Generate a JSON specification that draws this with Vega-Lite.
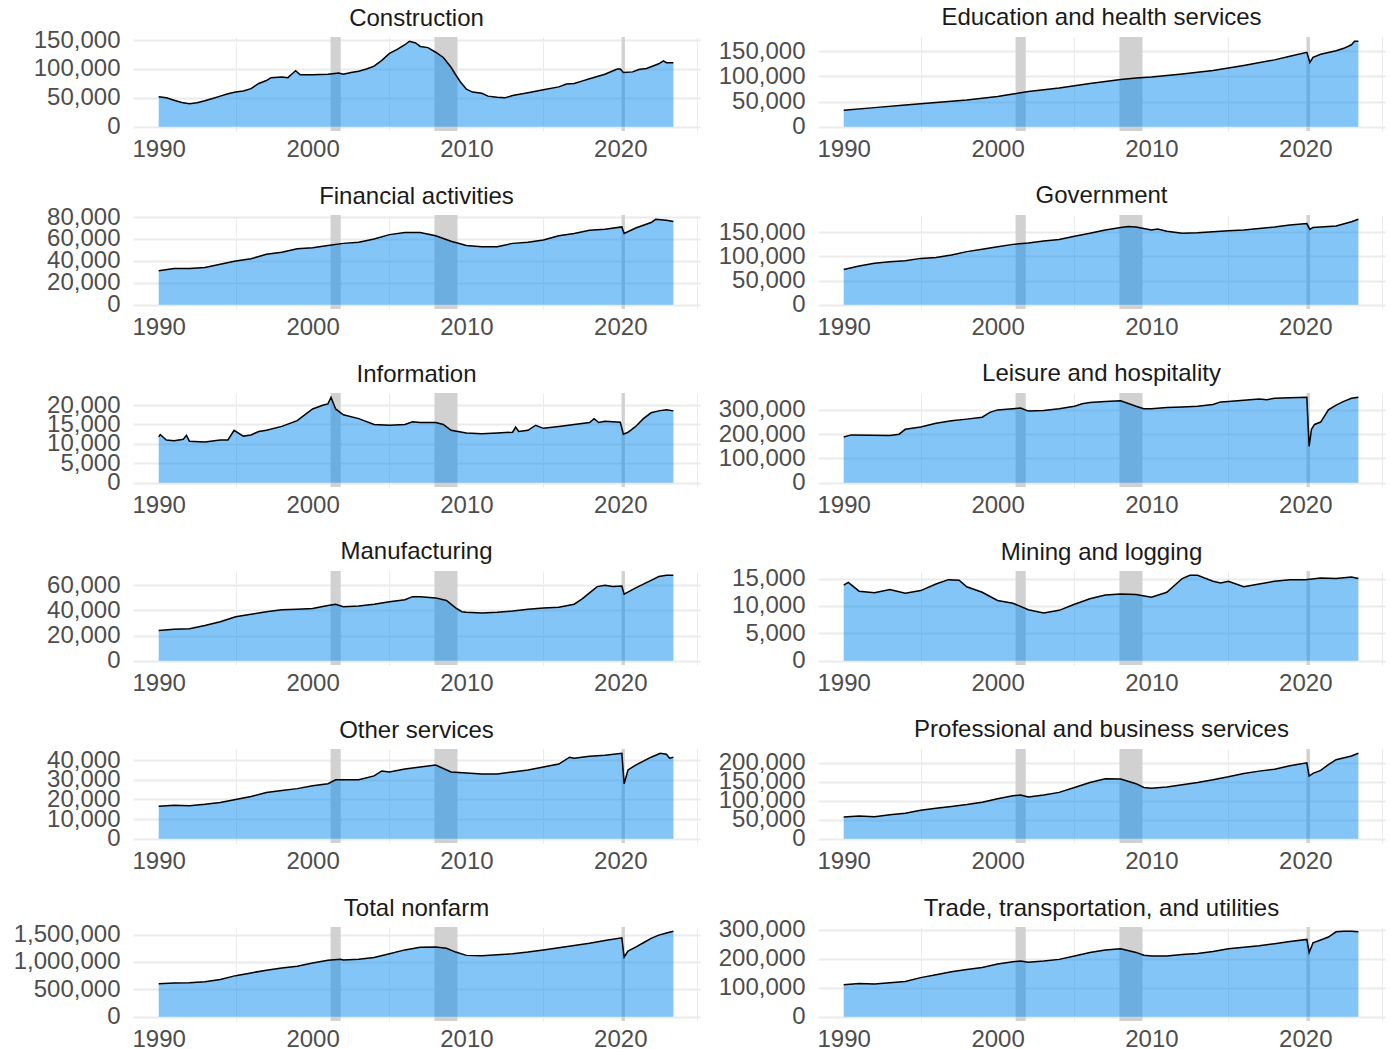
{
  "$schema": "https://vega.github.io/schema/vega-lite/v6.json",
  "padding": {"left": 13, "top": 6, "right": 5, "bottom": 0},
  "background": "white",
  "datasets": {
    "rec": [
      {"start": 2001.17, "end": 2001.83},
      {"start": 2007.92, "end": 2009.42},
      {"start": 2020.08, "end": 2020.3}
    ],
    "emp": [
      {"industry": "Construction", "year": 1990, "value": 52000},
      {"industry": "Construction", "year": 1990.5, "value": 50000},
      {"industry": "Construction", "year": 1991, "value": 46000},
      {"industry": "Construction", "year": 1991.5, "value": 42000},
      {"industry": "Construction", "year": 1992, "value": 40000},
      {"industry": "Construction", "year": 1992.5, "value": 41500},
      {"industry": "Construction", "year": 1993, "value": 45000},
      {"industry": "Construction", "year": 1993.5, "value": 49000},
      {"industry": "Construction", "year": 1994, "value": 53000},
      {"industry": "Construction", "year": 1994.5, "value": 57000},
      {"industry": "Construction", "year": 1995, "value": 60000},
      {"industry": "Construction", "year": 1995.5, "value": 62000},
      {"industry": "Construction", "year": 1996, "value": 66000},
      {"industry": "Construction", "year": 1996.5, "value": 75000},
      {"industry": "Construction", "year": 1997, "value": 80000},
      {"industry": "Construction", "year": 1997.3, "value": 85000},
      {"industry": "Construction", "year": 1998, "value": 86000},
      {"industry": "Construction", "year": 1998.4, "value": 85000},
      {"industry": "Construction", "year": 1998.6, "value": 90000},
      {"industry": "Construction", "year": 1998.9, "value": 97000},
      {"industry": "Construction", "year": 1999.2, "value": 90000},
      {"industry": "Construction", "year": 2000, "value": 90000},
      {"industry": "Construction", "year": 2001, "value": 91000},
      {"industry": "Construction", "year": 2001.7, "value": 93000},
      {"industry": "Construction", "year": 2002, "value": 91000},
      {"industry": "Construction", "year": 2002.5, "value": 94000},
      {"industry": "Construction", "year": 2003, "value": 96000},
      {"industry": "Construction", "year": 2003.5, "value": 100000},
      {"industry": "Construction", "year": 2004, "value": 105000},
      {"industry": "Construction", "year": 2004.5, "value": 115000},
      {"industry": "Construction", "year": 2005, "value": 127000},
      {"industry": "Construction", "year": 2005.5, "value": 134000},
      {"industry": "Construction", "year": 2006, "value": 142000},
      {"industry": "Construction", "year": 2006.3, "value": 148000},
      {"industry": "Construction", "year": 2006.7, "value": 145000},
      {"industry": "Construction", "year": 2007, "value": 139000},
      {"industry": "Construction", "year": 2007.5, "value": 137000},
      {"industry": "Construction", "year": 2008, "value": 129000},
      {"industry": "Construction", "year": 2008.5, "value": 120000},
      {"industry": "Construction", "year": 2009, "value": 103000},
      {"industry": "Construction", "year": 2009.3, "value": 90000},
      {"industry": "Construction", "year": 2009.6, "value": 78000},
      {"industry": "Construction", "year": 2010, "value": 65000},
      {"industry": "Construction", "year": 2010.4, "value": 60000},
      {"industry": "Construction", "year": 2011, "value": 58000},
      {"industry": "Construction", "year": 2011.4, "value": 53000},
      {"industry": "Construction", "year": 2012, "value": 51000},
      {"industry": "Construction", "year": 2012.5, "value": 50000},
      {"industry": "Construction", "year": 2013, "value": 54000},
      {"industry": "Construction", "year": 2014, "value": 59000},
      {"industry": "Construction", "year": 2015, "value": 64000},
      {"industry": "Construction", "year": 2016, "value": 69000},
      {"industry": "Construction", "year": 2016.5, "value": 74000},
      {"industry": "Construction", "year": 2017, "value": 75000},
      {"industry": "Construction", "year": 2017.5, "value": 79000},
      {"industry": "Construction", "year": 2018, "value": 83000},
      {"industry": "Construction", "year": 2019, "value": 91000},
      {"industry": "Construction", "year": 2019.8, "value": 100000},
      {"industry": "Construction", "year": 2020, "value": 100000},
      {"industry": "Construction", "year": 2020.2, "value": 94000},
      {"industry": "Construction", "year": 2020.8, "value": 95000},
      {"industry": "Construction", "year": 2021.2, "value": 99000},
      {"industry": "Construction", "year": 2021.7, "value": 101000},
      {"industry": "Construction", "year": 2022, "value": 104000},
      {"industry": "Construction", "year": 2022.5, "value": 109000},
      {"industry": "Construction", "year": 2022.8, "value": 114000},
      {"industry": "Construction", "year": 2023, "value": 111000},
      {"industry": "Construction", "year": 2023.45, "value": 111000},

      {"industry": "Education and health services", "year": 1990, "value": 33000},
      {"industry": "Education and health services", "year": 1992, "value": 38000},
      {"industry": "Education and health services", "year": 1994, "value": 43000},
      {"industry": "Education and health services", "year": 1996, "value": 48000},
      {"industry": "Education and health services", "year": 1998, "value": 53000},
      {"industry": "Education and health services", "year": 2000, "value": 60000},
      {"industry": "Education and health services", "year": 2001, "value": 65000},
      {"industry": "Education and health services", "year": 2002, "value": 70000},
      {"industry": "Education and health services", "year": 2004, "value": 77000},
      {"industry": "Education and health services", "year": 2006, "value": 86000},
      {"industry": "Education and health services", "year": 2008, "value": 94000},
      {"industry": "Education and health services", "year": 2009, "value": 97000},
      {"industry": "Education and health services", "year": 2010, "value": 99000},
      {"industry": "Education and health services", "year": 2012, "value": 105000},
      {"industry": "Education and health services", "year": 2014, "value": 112000},
      {"industry": "Education and health services", "year": 2016, "value": 122000},
      {"industry": "Education and health services", "year": 2018, "value": 133000},
      {"industry": "Education and health services", "year": 2019, "value": 140000},
      {"industry": "Education and health services", "year": 2020.1, "value": 148000},
      {"industry": "Education and health services", "year": 2020.3, "value": 128000},
      {"industry": "Education and health services", "year": 2020.5, "value": 138000},
      {"industry": "Education and health services", "year": 2021, "value": 144000},
      {"industry": "Education and health services", "year": 2022, "value": 151000},
      {"industry": "Education and health services", "year": 2022.5, "value": 156000},
      {"industry": "Education and health services", "year": 2023, "value": 163000},
      {"industry": "Education and health services", "year": 2023.2, "value": 170000},
      {"industry": "Education and health services", "year": 2023.45, "value": 170000},

      {"industry": "Financial activities", "year": 1990, "value": 31000},
      {"industry": "Financial activities", "year": 1991, "value": 33000},
      {"industry": "Financial activities", "year": 1992, "value": 33000},
      {"industry": "Financial activities", "year": 1993, "value": 34000},
      {"industry": "Financial activities", "year": 1994, "value": 37000},
      {"industry": "Financial activities", "year": 1995, "value": 40000},
      {"industry": "Financial activities", "year": 1996, "value": 42000},
      {"industry": "Financial activities", "year": 1997, "value": 46000},
      {"industry": "Financial activities", "year": 1998, "value": 48000},
      {"industry": "Financial activities", "year": 1999, "value": 51000},
      {"industry": "Financial activities", "year": 2000, "value": 52000},
      {"industry": "Financial activities", "year": 2001, "value": 54000},
      {"industry": "Financial activities", "year": 2002, "value": 56000},
      {"industry": "Financial activities", "year": 2003, "value": 57000},
      {"industry": "Financial activities", "year": 2004, "value": 60000},
      {"industry": "Financial activities", "year": 2005, "value": 64000},
      {"industry": "Financial activities", "year": 2006, "value": 66000},
      {"industry": "Financial activities", "year": 2007, "value": 66000},
      {"industry": "Financial activities", "year": 2008, "value": 63000},
      {"industry": "Financial activities", "year": 2009, "value": 58000},
      {"industry": "Financial activities", "year": 2010, "value": 54000},
      {"industry": "Financial activities", "year": 2011, "value": 53000},
      {"industry": "Financial activities", "year": 2012, "value": 53000},
      {"industry": "Financial activities", "year": 2013, "value": 56000},
      {"industry": "Financial activities", "year": 2014, "value": 57000},
      {"industry": "Financial activities", "year": 2015, "value": 59000},
      {"industry": "Financial activities", "year": 2016, "value": 63000},
      {"industry": "Financial activities", "year": 2017, "value": 65000},
      {"industry": "Financial activities", "year": 2018, "value": 68000},
      {"industry": "Financial activities", "year": 2019, "value": 69000},
      {"industry": "Financial activities", "year": 2020.1, "value": 71000},
      {"industry": "Financial activities", "year": 2020.25, "value": 65000},
      {"industry": "Financial activities", "year": 2021, "value": 70000},
      {"industry": "Financial activities", "year": 2022, "value": 75000},
      {"industry": "Financial activities", "year": 2022.3, "value": 78000},
      {"industry": "Financial activities", "year": 2023, "value": 77000},
      {"industry": "Financial activities", "year": 2023.45, "value": 76000},

      {"industry": "Government", "year": 1990, "value": 73000},
      {"industry": "Government", "year": 1991, "value": 80000},
      {"industry": "Government", "year": 1992, "value": 86000},
      {"industry": "Government", "year": 1993, "value": 89000},
      {"industry": "Government", "year": 1994, "value": 91000},
      {"industry": "Government", "year": 1995, "value": 96000},
      {"industry": "Government", "year": 1996, "value": 98000},
      {"industry": "Government", "year": 1997, "value": 103000},
      {"industry": "Government", "year": 1998, "value": 110000},
      {"industry": "Government", "year": 1999, "value": 115000},
      {"industry": "Government", "year": 2000, "value": 120000},
      {"industry": "Government", "year": 2001, "value": 125000},
      {"industry": "Government", "year": 2002, "value": 128000},
      {"industry": "Government", "year": 2003, "value": 132000},
      {"industry": "Government", "year": 2004, "value": 135000},
      {"industry": "Government", "year": 2005, "value": 142000},
      {"industry": "Government", "year": 2006, "value": 148000},
      {"industry": "Government", "year": 2007, "value": 155000},
      {"industry": "Government", "year": 2008, "value": 160000},
      {"industry": "Government", "year": 2008.5, "value": 162000},
      {"industry": "Government", "year": 2009, "value": 161000},
      {"industry": "Government", "year": 2010, "value": 155000},
      {"industry": "Government", "year": 2010.4, "value": 157000},
      {"industry": "Government", "year": 2011, "value": 152000},
      {"industry": "Government", "year": 2012, "value": 148000},
      {"industry": "Government", "year": 2013, "value": 149000},
      {"industry": "Government", "year": 2014, "value": 151000},
      {"industry": "Government", "year": 2015, "value": 153000},
      {"industry": "Government", "year": 2016, "value": 155000},
      {"industry": "Government", "year": 2017, "value": 158000},
      {"industry": "Government", "year": 2018, "value": 161000},
      {"industry": "Government", "year": 2019, "value": 165000},
      {"industry": "Government", "year": 2020.1, "value": 168000},
      {"industry": "Government", "year": 2020.3, "value": 156000},
      {"industry": "Government", "year": 2020.5, "value": 160000},
      {"industry": "Government", "year": 2021, "value": 161000},
      {"industry": "Government", "year": 2022, "value": 163000},
      {"industry": "Government", "year": 2023, "value": 172000},
      {"industry": "Government", "year": 2023.45, "value": 177000},

      {"industry": "Information", "year": 1990, "value": 11800},
      {"industry": "Information", "year": 1990.1, "value": 12400},
      {"industry": "Information", "year": 1990.5, "value": 11000},
      {"industry": "Information", "year": 1991, "value": 10800},
      {"industry": "Information", "year": 1991.6, "value": 11200},
      {"industry": "Information", "year": 1991.8, "value": 12200},
      {"industry": "Information", "year": 1992, "value": 10700},
      {"industry": "Information", "year": 1993, "value": 10500},
      {"industry": "Information", "year": 1994, "value": 11000},
      {"industry": "Information", "year": 1994.5, "value": 11000},
      {"industry": "Information", "year": 1994.9, "value": 13500},
      {"industry": "Information", "year": 1995.5, "value": 12000},
      {"industry": "Information", "year": 1996, "value": 12300},
      {"industry": "Information", "year": 1996.5, "value": 13200},
      {"industry": "Information", "year": 1997, "value": 13500},
      {"industry": "Information", "year": 1998, "value": 14500},
      {"industry": "Information", "year": 1999, "value": 16000},
      {"industry": "Information", "year": 2000, "value": 19000},
      {"industry": "Information", "year": 2000.7, "value": 20000},
      {"industry": "Information", "year": 2001, "value": 20300},
      {"industry": "Information", "year": 2001.2, "value": 22000},
      {"industry": "Information", "year": 2001.5, "value": 19000},
      {"industry": "Information", "year": 2002, "value": 17500},
      {"industry": "Information", "year": 2003, "value": 16500},
      {"industry": "Information", "year": 2004, "value": 15000},
      {"industry": "Information", "year": 2005, "value": 14800},
      {"industry": "Information", "year": 2006, "value": 15000},
      {"industry": "Information", "year": 2006.5, "value": 15700},
      {"industry": "Information", "year": 2007, "value": 15500},
      {"industry": "Information", "year": 2008, "value": 15500},
      {"industry": "Information", "year": 2008.5, "value": 15000},
      {"industry": "Information", "year": 2009, "value": 13500},
      {"industry": "Information", "year": 2010, "value": 12800},
      {"industry": "Information", "year": 2011, "value": 12600},
      {"industry": "Information", "year": 2012, "value": 12800},
      {"industry": "Information", "year": 2013, "value": 13000},
      {"industry": "Information", "year": 2013.2, "value": 14300},
      {"industry": "Information", "year": 2013.4, "value": 13200},
      {"industry": "Information", "year": 2014, "value": 13500},
      {"industry": "Information", "year": 2014.5, "value": 14800},
      {"industry": "Information", "year": 2015, "value": 14000},
      {"industry": "Information", "year": 2016, "value": 14500},
      {"industry": "Information", "year": 2017, "value": 15000},
      {"industry": "Information", "year": 2018, "value": 15500},
      {"industry": "Information", "year": 2018.3, "value": 16500},
      {"industry": "Information", "year": 2018.6, "value": 15500},
      {"industry": "Information", "year": 2019, "value": 15800},
      {"industry": "Information", "year": 2020, "value": 15600},
      {"industry": "Information", "year": 2020.2, "value": 12500},
      {"industry": "Information", "year": 2020.5, "value": 13000},
      {"industry": "Information", "year": 2021, "value": 14500},
      {"industry": "Information", "year": 2021.5, "value": 16500},
      {"industry": "Information", "year": 2022, "value": 18000},
      {"industry": "Information", "year": 2022.5, "value": 18500},
      {"industry": "Information", "year": 2023, "value": 18800},
      {"industry": "Information", "year": 2023.45, "value": 18500},

      {"industry": "Leisure and hospitality", "year": 1990, "value": 188000},
      {"industry": "Leisure and hospitality", "year": 1990.5, "value": 197000},
      {"industry": "Leisure and hospitality", "year": 1993, "value": 195000},
      {"industry": "Leisure and hospitality", "year": 1993.6, "value": 200000},
      {"industry": "Leisure and hospitality", "year": 1994, "value": 220000},
      {"industry": "Leisure and hospitality", "year": 1995, "value": 230000},
      {"industry": "Leisure and hospitality", "year": 1996, "value": 245000},
      {"industry": "Leisure and hospitality", "year": 1997, "value": 255000},
      {"industry": "Leisure and hospitality", "year": 1998, "value": 262000},
      {"industry": "Leisure and hospitality", "year": 1999, "value": 270000},
      {"industry": "Leisure and hospitality", "year": 1999.5, "value": 290000},
      {"industry": "Leisure and hospitality", "year": 2000, "value": 300000},
      {"industry": "Leisure and hospitality", "year": 2001, "value": 305000},
      {"industry": "Leisure and hospitality", "year": 2001.5, "value": 308000},
      {"industry": "Leisure and hospitality", "year": 2002, "value": 295000},
      {"industry": "Leisure and hospitality", "year": 2003, "value": 298000},
      {"industry": "Leisure and hospitality", "year": 2004, "value": 305000},
      {"industry": "Leisure and hospitality", "year": 2005, "value": 315000},
      {"industry": "Leisure and hospitality", "year": 2005.5, "value": 325000},
      {"industry": "Leisure and hospitality", "year": 2006, "value": 330000},
      {"industry": "Leisure and hospitality", "year": 2007, "value": 335000},
      {"industry": "Leisure and hospitality", "year": 2008, "value": 338000},
      {"industry": "Leisure and hospitality", "year": 2009, "value": 315000},
      {"industry": "Leisure and hospitality", "year": 2009.5, "value": 305000},
      {"industry": "Leisure and hospitality", "year": 2010, "value": 305000},
      {"industry": "Leisure and hospitality", "year": 2011, "value": 310000},
      {"industry": "Leisure and hospitality", "year": 2012, "value": 312000},
      {"industry": "Leisure and hospitality", "year": 2013, "value": 315000},
      {"industry": "Leisure and hospitality", "year": 2014, "value": 322000},
      {"industry": "Leisure and hospitality", "year": 2014.5, "value": 333000},
      {"industry": "Leisure and hospitality", "year": 2015, "value": 335000},
      {"industry": "Leisure and hospitality", "year": 2016, "value": 340000},
      {"industry": "Leisure and hospitality", "year": 2017, "value": 345000},
      {"industry": "Leisure and hospitality", "year": 2017.5, "value": 342000},
      {"industry": "Leisure and hospitality", "year": 2018, "value": 348000},
      {"industry": "Leisure and hospitality", "year": 2019, "value": 350000},
      {"industry": "Leisure and hospitality", "year": 2020.1, "value": 352000},
      {"industry": "Leisure and hospitality", "year": 2020.25, "value": 150000},
      {"industry": "Leisure and hospitality", "year": 2020.4, "value": 220000},
      {"industry": "Leisure and hospitality", "year": 2020.6, "value": 240000},
      {"industry": "Leisure and hospitality", "year": 2021, "value": 250000},
      {"industry": "Leisure and hospitality", "year": 2021.5, "value": 300000},
      {"industry": "Leisure and hospitality", "year": 2022, "value": 320000},
      {"industry": "Leisure and hospitality", "year": 2022.5, "value": 335000},
      {"industry": "Leisure and hospitality", "year": 2023, "value": 348000},
      {"industry": "Leisure and hospitality", "year": 2023.45, "value": 352000},

      {"industry": "Manufacturing", "year": 1990, "value": 24000},
      {"industry": "Manufacturing", "year": 1991, "value": 25000},
      {"industry": "Manufacturing", "year": 1992, "value": 25500},
      {"industry": "Manufacturing", "year": 1993, "value": 28000},
      {"industry": "Manufacturing", "year": 1994, "value": 31000},
      {"industry": "Manufacturing", "year": 1995, "value": 35000},
      {"industry": "Manufacturing", "year": 1996, "value": 37000},
      {"industry": "Manufacturing", "year": 1997, "value": 39000},
      {"industry": "Manufacturing", "year": 1998, "value": 40500},
      {"industry": "Manufacturing", "year": 1999, "value": 41000},
      {"industry": "Manufacturing", "year": 2000, "value": 41500},
      {"industry": "Manufacturing", "year": 2001, "value": 44000},
      {"industry": "Manufacturing", "year": 2001.5, "value": 45000},
      {"industry": "Manufacturing", "year": 2002, "value": 43000},
      {"industry": "Manufacturing", "year": 2003, "value": 43500},
      {"industry": "Manufacturing", "year": 2004, "value": 45000},
      {"industry": "Manufacturing", "year": 2005, "value": 47000},
      {"industry": "Manufacturing", "year": 2006, "value": 48500},
      {"industry": "Manufacturing", "year": 2006.5, "value": 51000},
      {"industry": "Manufacturing", "year": 2007, "value": 51000},
      {"industry": "Manufacturing", "year": 2008, "value": 50000},
      {"industry": "Manufacturing", "year": 2008.7, "value": 48000},
      {"industry": "Manufacturing", "year": 2009.3, "value": 42000},
      {"industry": "Manufacturing", "year": 2009.7, "value": 39000},
      {"industry": "Manufacturing", "year": 2010, "value": 38500},
      {"industry": "Manufacturing", "year": 2011, "value": 38000},
      {"industry": "Manufacturing", "year": 2012, "value": 38500},
      {"industry": "Manufacturing", "year": 2013, "value": 39500},
      {"industry": "Manufacturing", "year": 2014, "value": 41000},
      {"industry": "Manufacturing", "year": 2015, "value": 42000},
      {"industry": "Manufacturing", "year": 2016, "value": 42500},
      {"industry": "Manufacturing", "year": 2017, "value": 45000},
      {"industry": "Manufacturing", "year": 2017.5, "value": 49000},
      {"industry": "Manufacturing", "year": 2018, "value": 54000},
      {"industry": "Manufacturing", "year": 2018.5, "value": 59000},
      {"industry": "Manufacturing", "year": 2019, "value": 60000},
      {"industry": "Manufacturing", "year": 2019.5, "value": 59000},
      {"industry": "Manufacturing", "year": 2020.1, "value": 59500},
      {"industry": "Manufacturing", "year": 2020.25, "value": 53000},
      {"industry": "Manufacturing", "year": 2021, "value": 58000},
      {"industry": "Manufacturing", "year": 2022, "value": 64000},
      {"industry": "Manufacturing", "year": 2022.5, "value": 67000},
      {"industry": "Manufacturing", "year": 2023, "value": 68000},
      {"industry": "Manufacturing", "year": 2023.45, "value": 68000},

      {"industry": "Mining and logging", "year": 1990, "value": 13800},
      {"industry": "Mining and logging", "year": 1990.3, "value": 14300},
      {"industry": "Mining and logging", "year": 1991, "value": 12700},
      {"industry": "Mining and logging", "year": 1992, "value": 12400},
      {"industry": "Mining and logging", "year": 1993, "value": 13000},
      {"industry": "Mining and logging", "year": 1994, "value": 12300},
      {"industry": "Mining and logging", "year": 1995, "value": 12800},
      {"industry": "Mining and logging", "year": 1996, "value": 14000},
      {"industry": "Mining and logging", "year": 1996.8, "value": 14800},
      {"industry": "Mining and logging", "year": 1997.5, "value": 14700},
      {"industry": "Mining and logging", "year": 1998, "value": 13500},
      {"industry": "Mining and logging", "year": 1999, "value": 12500},
      {"industry": "Mining and logging", "year": 2000, "value": 11000},
      {"industry": "Mining and logging", "year": 2001, "value": 10500},
      {"industry": "Mining and logging", "year": 2002, "value": 9300},
      {"industry": "Mining and logging", "year": 2003, "value": 8700},
      {"industry": "Mining and logging", "year": 2004, "value": 9200},
      {"industry": "Mining and logging", "year": 2005, "value": 10300},
      {"industry": "Mining and logging", "year": 2006, "value": 11300},
      {"industry": "Mining and logging", "year": 2007, "value": 12000},
      {"industry": "Mining and logging", "year": 2008, "value": 12200},
      {"industry": "Mining and logging", "year": 2009, "value": 12100},
      {"industry": "Mining and logging", "year": 2010, "value": 11600},
      {"industry": "Mining and logging", "year": 2011, "value": 12500},
      {"industry": "Mining and logging", "year": 2012, "value": 15000},
      {"industry": "Mining and logging", "year": 2012.5, "value": 15600},
      {"industry": "Mining and logging", "year": 2013, "value": 15600},
      {"industry": "Mining and logging", "year": 2014, "value": 14500},
      {"industry": "Mining and logging", "year": 2014.5, "value": 14200},
      {"industry": "Mining and logging", "year": 2015, "value": 14500},
      {"industry": "Mining and logging", "year": 2016, "value": 13500},
      {"industry": "Mining and logging", "year": 2017, "value": 14000},
      {"industry": "Mining and logging", "year": 2018, "value": 14500},
      {"industry": "Mining and logging", "year": 2019, "value": 14800},
      {"industry": "Mining and logging", "year": 2020, "value": 14800},
      {"industry": "Mining and logging", "year": 2021, "value": 15100},
      {"industry": "Mining and logging", "year": 2022, "value": 15000},
      {"industry": "Mining and logging", "year": 2023, "value": 15300},
      {"industry": "Mining and logging", "year": 2023.45, "value": 15000},

      {"industry": "Other services", "year": 1990, "value": 16500},
      {"industry": "Other services", "year": 1991, "value": 17000},
      {"industry": "Other services", "year": 1992, "value": 16800},
      {"industry": "Other services", "year": 1993, "value": 17500},
      {"industry": "Other services", "year": 1994, "value": 18500},
      {"industry": "Other services", "year": 1995, "value": 20000},
      {"industry": "Other services", "year": 1996, "value": 21500},
      {"industry": "Other services", "year": 1997, "value": 23500},
      {"industry": "Other services", "year": 1998, "value": 24500},
      {"industry": "Other services", "year": 1999, "value": 25500},
      {"industry": "Other services", "year": 2000, "value": 27000},
      {"industry": "Other services", "year": 2001, "value": 28000},
      {"industry": "Other services", "year": 2001.5, "value": 30000},
      {"industry": "Other services", "year": 2002, "value": 30000},
      {"industry": "Other services", "year": 2003, "value": 30000},
      {"industry": "Other services", "year": 2004, "value": 32000},
      {"industry": "Other services", "year": 2004.5, "value": 34500},
      {"industry": "Other services", "year": 2005, "value": 34000},
      {"industry": "Other services", "year": 2006, "value": 35500},
      {"industry": "Other services", "year": 2007, "value": 36500},
      {"industry": "Other services", "year": 2008, "value": 37500},
      {"industry": "Other services", "year": 2009, "value": 34000},
      {"industry": "Other services", "year": 2010, "value": 33500},
      {"industry": "Other services", "year": 2011, "value": 33000},
      {"industry": "Other services", "year": 2012, "value": 33000},
      {"industry": "Other services", "year": 2013, "value": 34000},
      {"industry": "Other services", "year": 2014, "value": 35000},
      {"industry": "Other services", "year": 2015, "value": 36500},
      {"industry": "Other services", "year": 2016, "value": 38000},
      {"industry": "Other services", "year": 2016.7, "value": 41500},
      {"industry": "Other services", "year": 2017, "value": 41000},
      {"industry": "Other services", "year": 2018, "value": 42000},
      {"industry": "Other services", "year": 2019, "value": 42500},
      {"industry": "Other services", "year": 2020.1, "value": 43500},
      {"industry": "Other services", "year": 2020.25, "value": 28000},
      {"industry": "Other services", "year": 2020.5, "value": 35000},
      {"industry": "Other services", "year": 2021, "value": 37500},
      {"industry": "Other services", "year": 2022, "value": 41500},
      {"industry": "Other services", "year": 2022.6, "value": 43500},
      {"industry": "Other services", "year": 2023, "value": 43000},
      {"industry": "Other services", "year": 2023.2, "value": 41000},
      {"industry": "Other services", "year": 2023.45, "value": 41500},

      {"industry": "Professional and business services", "year": 1990, "value": 57000},
      {"industry": "Professional and business services", "year": 1991, "value": 60000},
      {"industry": "Professional and business services", "year": 1992, "value": 58000},
      {"industry": "Professional and business services", "year": 1993, "value": 63000},
      {"industry": "Professional and business services", "year": 1994, "value": 67000},
      {"industry": "Professional and business services", "year": 1995, "value": 75000},
      {"industry": "Professional and business services", "year": 1996, "value": 80000},
      {"industry": "Professional and business services", "year": 1997, "value": 85000},
      {"industry": "Professional and business services", "year": 1998, "value": 90000},
      {"industry": "Professional and business services", "year": 1999, "value": 96000},
      {"industry": "Professional and business services", "year": 2000, "value": 105000},
      {"industry": "Professional and business services", "year": 2001, "value": 113000},
      {"industry": "Professional and business services", "year": 2001.5, "value": 115000},
      {"industry": "Professional and business services", "year": 2002, "value": 110000},
      {"industry": "Professional and business services", "year": 2003, "value": 115000},
      {"industry": "Professional and business services", "year": 2004, "value": 122000},
      {"industry": "Professional and business services", "year": 2005, "value": 135000},
      {"industry": "Professional and business services", "year": 2006, "value": 148000},
      {"industry": "Professional and business services", "year": 2007, "value": 158000},
      {"industry": "Professional and business services", "year": 2008, "value": 157000},
      {"industry": "Professional and business services", "year": 2009, "value": 145000},
      {"industry": "Professional and business services", "year": 2009.5, "value": 135000},
      {"industry": "Professional and business services", "year": 2010, "value": 133000},
      {"industry": "Professional and business services", "year": 2011, "value": 136000},
      {"industry": "Professional and business services", "year": 2012, "value": 142000},
      {"industry": "Professional and business services", "year": 2013, "value": 148000},
      {"industry": "Professional and business services", "year": 2014, "value": 155000},
      {"industry": "Professional and business services", "year": 2015, "value": 163000},
      {"industry": "Professional and business services", "year": 2016, "value": 172000},
      {"industry": "Professional and business services", "year": 2017, "value": 178000},
      {"industry": "Professional and business services", "year": 2018, "value": 183000},
      {"industry": "Professional and business services", "year": 2019, "value": 192000},
      {"industry": "Professional and business services", "year": 2020.1, "value": 200000},
      {"industry": "Professional and business services", "year": 2020.25, "value": 165000},
      {"industry": "Professional and business services", "year": 2020.5, "value": 172000},
      {"industry": "Professional and business services", "year": 2021, "value": 180000},
      {"industry": "Professional and business services", "year": 2021.5, "value": 195000},
      {"industry": "Professional and business services", "year": 2022, "value": 208000},
      {"industry": "Professional and business services", "year": 2023, "value": 218000},
      {"industry": "Professional and business services", "year": 2023.45, "value": 225000},

      {"industry": "Total nonfarm", "year": 1990, "value": 600000},
      {"industry": "Total nonfarm", "year": 1991, "value": 615000},
      {"industry": "Total nonfarm", "year": 1992, "value": 620000},
      {"industry": "Total nonfarm", "year": 1993, "value": 640000},
      {"industry": "Total nonfarm", "year": 1994, "value": 680000},
      {"industry": "Total nonfarm", "year": 1995, "value": 750000},
      {"industry": "Total nonfarm", "year": 1996, "value": 800000},
      {"industry": "Total nonfarm", "year": 1997, "value": 850000},
      {"industry": "Total nonfarm", "year": 1998, "value": 890000},
      {"industry": "Total nonfarm", "year": 1999, "value": 920000},
      {"industry": "Total nonfarm", "year": 2000, "value": 980000},
      {"industry": "Total nonfarm", "year": 2001, "value": 1030000},
      {"industry": "Total nonfarm", "year": 2001.8, "value": 1050000},
      {"industry": "Total nonfarm", "year": 2002, "value": 1035000},
      {"industry": "Total nonfarm", "year": 2003, "value": 1050000},
      {"industry": "Total nonfarm", "year": 2004, "value": 1080000},
      {"industry": "Total nonfarm", "year": 2005, "value": 1150000},
      {"industry": "Total nonfarm", "year": 2006, "value": 1220000},
      {"industry": "Total nonfarm", "year": 2007, "value": 1270000},
      {"industry": "Total nonfarm", "year": 2008, "value": 1275000},
      {"industry": "Total nonfarm", "year": 2008.7, "value": 1250000},
      {"industry": "Total nonfarm", "year": 2009.3, "value": 1180000},
      {"industry": "Total nonfarm", "year": 2010, "value": 1120000},
      {"industry": "Total nonfarm", "year": 2011, "value": 1115000},
      {"industry": "Total nonfarm", "year": 2012, "value": 1130000},
      {"industry": "Total nonfarm", "year": 2013, "value": 1150000},
      {"industry": "Total nonfarm", "year": 2014, "value": 1180000},
      {"industry": "Total nonfarm", "year": 2015, "value": 1220000},
      {"industry": "Total nonfarm", "year": 2016, "value": 1260000},
      {"industry": "Total nonfarm", "year": 2017, "value": 1300000},
      {"industry": "Total nonfarm", "year": 2018, "value": 1340000},
      {"industry": "Total nonfarm", "year": 2019, "value": 1390000},
      {"industry": "Total nonfarm", "year": 2020.1, "value": 1440000},
      {"industry": "Total nonfarm", "year": 2020.25, "value": 1090000},
      {"industry": "Total nonfarm", "year": 2020.5, "value": 1200000},
      {"industry": "Total nonfarm", "year": 2021, "value": 1270000},
      {"industry": "Total nonfarm", "year": 2021.5, "value": 1350000},
      {"industry": "Total nonfarm", "year": 2022, "value": 1430000},
      {"industry": "Total nonfarm", "year": 2022.5, "value": 1490000},
      {"industry": "Total nonfarm", "year": 2023, "value": 1530000},
      {"industry": "Total nonfarm", "year": 2023.45, "value": 1560000},

      {"industry": "Trade, transportation, and utilities", "year": 1990, "value": 110000},
      {"industry": "Trade, transportation, and utilities", "year": 1991, "value": 115000},
      {"industry": "Trade, transportation, and utilities", "year": 1992, "value": 113000},
      {"industry": "Trade, transportation, and utilities", "year": 1993, "value": 117000},
      {"industry": "Trade, transportation, and utilities", "year": 1994, "value": 122000},
      {"industry": "Trade, transportation, and utilities", "year": 1995, "value": 135000},
      {"industry": "Trade, transportation, and utilities", "year": 1996, "value": 145000},
      {"industry": "Trade, transportation, and utilities", "year": 1997, "value": 155000},
      {"industry": "Trade, transportation, and utilities", "year": 1998, "value": 163000},
      {"industry": "Trade, transportation, and utilities", "year": 1999, "value": 170000},
      {"industry": "Trade, transportation, and utilities", "year": 2000, "value": 182000},
      {"industry": "Trade, transportation, and utilities", "year": 2001, "value": 190000},
      {"industry": "Trade, transportation, and utilities", "year": 2001.5, "value": 192000},
      {"industry": "Trade, transportation, and utilities", "year": 2002, "value": 188000},
      {"industry": "Trade, transportation, and utilities", "year": 2003, "value": 192000},
      {"industry": "Trade, transportation, and utilities", "year": 2004, "value": 198000},
      {"industry": "Trade, transportation, and utilities", "year": 2005, "value": 210000},
      {"industry": "Trade, transportation, and utilities", "year": 2006, "value": 222000},
      {"industry": "Trade, transportation, and utilities", "year": 2007, "value": 230000},
      {"industry": "Trade, transportation, and utilities", "year": 2008, "value": 235000},
      {"industry": "Trade, transportation, and utilities", "year": 2009, "value": 222000},
      {"industry": "Trade, transportation, and utilities", "year": 2009.5, "value": 212000},
      {"industry": "Trade, transportation, and utilities", "year": 2010, "value": 210000},
      {"industry": "Trade, transportation, and utilities", "year": 2011, "value": 210000},
      {"industry": "Trade, transportation, and utilities", "year": 2012, "value": 215000},
      {"industry": "Trade, transportation, and utilities", "year": 2013, "value": 218000},
      {"industry": "Trade, transportation, and utilities", "year": 2014, "value": 225000},
      {"industry": "Trade, transportation, and utilities", "year": 2015, "value": 235000},
      {"industry": "Trade, transportation, and utilities", "year": 2016, "value": 240000},
      {"industry": "Trade, transportation, and utilities", "year": 2017, "value": 245000},
      {"industry": "Trade, transportation, and utilities", "year": 2018, "value": 252000},
      {"industry": "Trade, transportation, and utilities", "year": 2019, "value": 260000},
      {"industry": "Trade, transportation, and utilities", "year": 2020.1, "value": 267000},
      {"industry": "Trade, transportation, and utilities", "year": 2020.25, "value": 222000},
      {"industry": "Trade, transportation, and utilities", "year": 2020.5, "value": 255000},
      {"industry": "Trade, transportation, and utilities", "year": 2021, "value": 265000},
      {"industry": "Trade, transportation, and utilities", "year": 2021.5, "value": 275000},
      {"industry": "Trade, transportation, and utilities", "year": 2022, "value": 293000},
      {"industry": "Trade, transportation, and utilities", "year": 2022.5, "value": 295000},
      {"industry": "Trade, transportation, and utilities", "year": 2023, "value": 295000},
      {"industry": "Trade, transportation, and utilities", "year": 2023.45, "value": 293000}
    ]
  },
  "config": {
    "view": {"stroke": null},
    "font": "Liberation Sans",
    "axis": {"domain": false, "ticks": false, "grid": true, "gridColor": "#EBEBEB", "gridWidth": 1.8, "labelFont": "Liberation Sans", "labelFontSize": 24, "labelColor": "#4D4D4D", "labelOverlap": false},
    "axisX": {"labelPadding": 6},
    "axisY": {"labelPadding": 13, "minExtent": 118, "maxExtent": 118},
    "title": {"font": "Liberation Sans", "fontSize": 24, "fontWeight": "normal", "color": "#1A1A1A", "anchor": "middle", "frame": "group", "offset": 7, "baseline": "alphabetic"}
  },
  "columns": 2,
  "spacing": {"row": 23, "column": 0},
  "concat": [
    {"title": {"text": "Construction", "offset": -2.5}, "width": 567, "height": 94,
     "resolve": {"axis": {"x": "independent", "y": "independent"}},
     "layer": [
      {"data": {"name": "rec"}, "mark": {"type": "rect", "color": "#D1D1D1"},
       "encoding": {"x": {"field": "start", "type": "quantitative", "scale": {"domain": [1988.33, 2025.18], "nice": false, "zero": false}, "axis": {"orient": "top", "values": [1995, 2005, 2015, 2025], "labels": false, "gridWidth": 1, "minExtent": 0, "maxExtent": 0, "title": null}}, "x2": {"field": "end"}}},
      {"data": {"name": "emp"}, "transform": [{"filter": {"field": "industry", "equal": "Construction"}}],
       "mark": {"type": "area", "color": "#0A8CF0", "opacity": 0.5},
       "encoding": {"x": {"field": "year", "type": "quantitative", "scale": {"domain": [1988.33, 2025.18], "nice": false, "zero": false}, "axis": {"values": [1990, 2000, 2010, 2020], "format": "d", "title": null}},
        "y": {"field": "value", "type": "quantitative", "scale": {"domain": [-7400, 155400], "nice": false, "zero": false}, "axis": {"values": [0, 50000, 100000, 150000], "format": ",d", "title": null}}, "y2": {"datum": 0}}},
      {"data": {"name": "emp"}, "transform": [{"filter": {"field": "industry", "equal": "Construction"}}],
       "mark": {"type": "line", "color": "#000000", "strokeWidth": 1.5},
       "encoding": {"x": {"field": "year", "type": "quantitative", "scale": {"domain": [1988.33, 2025.18], "nice": false, "zero": false}, "axis": null},
        "y": {"field": "value", "type": "quantitative", "scale": {"domain": [-7400, 155400], "nice": false, "zero": false}, "axis": {"orient": "right", "values": [25000, 75000, 125000], "labels": false, "gridWidth": 1, "minExtent": 0, "maxExtent": 0, "title": null}}}}
     ]},
    {"title": {"text": "Education and health services"}, "width": 567, "height": 94,
     "resolve": {"axis": {"x": "independent", "y": "independent"}},
     "layer": [
      {"data": {"name": "rec"}, "mark": {"type": "rect", "color": "#D1D1D1"},
       "encoding": {"x": {"field": "start", "type": "quantitative", "scale": {"domain": [1988.33, 2025.18], "nice": false, "zero": false}, "axis": {"orient": "top", "values": [1995, 2005, 2015, 2025], "labels": false, "gridWidth": 1, "minExtent": 0, "maxExtent": 0, "title": null}}, "x2": {"field": "end"}}},
      {"data": {"name": "emp"}, "transform": [{"filter": {"field": "industry", "equal": "Education and health services"}}],
       "mark": {"type": "area", "color": "#0A8CF0", "opacity": 0.5},
       "encoding": {"x": {"field": "year", "type": "quantitative", "scale": {"domain": [1988.33, 2025.18], "nice": false, "zero": false}, "axis": {"values": [1990, 2000, 2010, 2020], "format": "d", "title": null}},
        "y": {"field": "value", "type": "quantitative", "scale": {"domain": [-8500, 178500], "nice": false, "zero": false}, "axis": {"values": [0, 50000, 100000, 150000], "format": ",d", "title": null}}, "y2": {"datum": 0}}},
      {"data": {"name": "emp"}, "transform": [{"filter": {"field": "industry", "equal": "Education and health services"}}],
       "mark": {"type": "line", "color": "#000000", "strokeWidth": 1.5},
       "encoding": {"x": {"field": "year", "type": "quantitative", "scale": {"domain": [1988.33, 2025.18], "nice": false, "zero": false}, "axis": null},
        "y": {"field": "value", "type": "quantitative", "scale": {"domain": [-8500, 178500], "nice": false, "zero": false}, "axis": {"orient": "right", "values": [25000, 75000, 125000, 175000], "labels": false, "gridWidth": 1, "minExtent": 0, "maxExtent": 0, "title": null}}}}
     ]},
    {"title": {"text": "Financial activities", "offset": -3.5}, "width": 567, "height": 94,
     "resolve": {"axis": {"x": "independent", "y": "independent"}},
     "layer": [
      {"data": {"name": "rec"}, "mark": {"type": "rect", "color": "#D1D1D1"},
       "encoding": {"x": {"field": "start", "type": "quantitative", "scale": {"domain": [1988.33, 2025.18], "nice": false, "zero": false}, "axis": {"orient": "top", "values": [1995, 2005, 2015, 2025], "labels": false, "gridWidth": 1, "minExtent": 0, "maxExtent": 0, "title": null}}, "x2": {"field": "end"}}},
      {"data": {"name": "emp"}, "transform": [{"filter": {"field": "industry", "equal": "Financial activities"}}],
       "mark": {"type": "area", "color": "#0A8CF0", "opacity": 0.5},
       "encoding": {"x": {"field": "year", "type": "quantitative", "scale": {"domain": [1988.33, 2025.18], "nice": false, "zero": false}, "axis": {"values": [1990, 2000, 2010, 2020], "format": "d", "title": null}},
        "y": {"field": "value", "type": "quantitative", "scale": {"domain": [-3900, 81900], "nice": false, "zero": false}, "axis": {"values": [0, 20000, 40000, 60000, 80000], "format": ",d", "title": null}}, "y2": {"datum": 0}}},
      {"data": {"name": "emp"}, "transform": [{"filter": {"field": "industry", "equal": "Financial activities"}}],
       "mark": {"type": "line", "color": "#000000", "strokeWidth": 1.5},
       "encoding": {"x": {"field": "year", "type": "quantitative", "scale": {"domain": [1988.33, 2025.18], "nice": false, "zero": false}, "axis": null},
        "y": {"field": "value", "type": "quantitative", "scale": {"domain": [-3900, 81900], "nice": false, "zero": false}, "axis": {"orient": "right", "values": [10000, 30000, 50000, 70000], "labels": false, "gridWidth": 1, "minExtent": 0, "maxExtent": 0, "title": null}}}}
     ]},
    {"title": {"text": "Government"}, "width": 567, "height": 94,
     "resolve": {"axis": {"x": "independent", "y": "independent"}},
     "layer": [
      {"data": {"name": "rec"}, "mark": {"type": "rect", "color": "#D1D1D1"},
       "encoding": {"x": {"field": "start", "type": "quantitative", "scale": {"domain": [1988.33, 2025.18], "nice": false, "zero": false}, "axis": {"orient": "top", "values": [1995, 2005, 2015, 2025], "labels": false, "gridWidth": 1, "minExtent": 0, "maxExtent": 0, "title": null}}, "x2": {"field": "end"}}},
      {"data": {"name": "emp"}, "transform": [{"filter": {"field": "industry", "equal": "Government"}}],
       "mark": {"type": "area", "color": "#0A8CF0", "opacity": 0.5},
       "encoding": {"x": {"field": "year", "type": "quantitative", "scale": {"domain": [1988.33, 2025.18], "nice": false, "zero": false}, "axis": {"values": [1990, 2000, 2010, 2020], "format": "d", "title": null}},
        "y": {"field": "value", "type": "quantitative", "scale": {"domain": [-8850, 185850], "nice": false, "zero": false}, "axis": {"values": [0, 50000, 100000, 150000], "format": ",d", "title": null}}, "y2": {"datum": 0}}},
      {"data": {"name": "emp"}, "transform": [{"filter": {"field": "industry", "equal": "Government"}}],
       "mark": {"type": "line", "color": "#000000", "strokeWidth": 1.5},
       "encoding": {"x": {"field": "year", "type": "quantitative", "scale": {"domain": [1988.33, 2025.18], "nice": false, "zero": false}, "axis": null},
        "y": {"field": "value", "type": "quantitative", "scale": {"domain": [-8850, 185850], "nice": false, "zero": false}, "axis": {"orient": "right", "values": [25000, 75000, 125000, 175000], "labels": false, "gridWidth": 1, "minExtent": 0, "maxExtent": 0, "title": null}}}}
     ]},
    {"title": {"text": "Information", "offset": 6.3}, "width": 567, "height": 94,
     "resolve": {"axis": {"x": "independent", "y": "independent"}},
     "layer": [
      {"data": {"name": "rec"}, "mark": {"type": "rect", "color": "#D1D1D1"},
       "encoding": {"x": {"field": "start", "type": "quantitative", "scale": {"domain": [1988.33, 2025.18], "nice": false, "zero": false}, "axis": {"orient": "top", "values": [1995, 2005, 2015, 2025], "labels": false, "gridWidth": 1, "minExtent": 0, "maxExtent": 0, "title": null}}, "x2": {"field": "end"}}},
      {"data": {"name": "emp"}, "transform": [{"filter": {"field": "industry", "equal": "Information"}}],
       "mark": {"type": "area", "color": "#0A8CF0", "opacity": 0.5},
       "encoding": {"x": {"field": "year", "type": "quantitative", "scale": {"domain": [1988.33, 2025.18], "nice": false, "zero": false}, "axis": {"values": [1990, 2000, 2010, 2020], "format": "d", "title": null}},
        "y": {"field": "value", "type": "quantitative", "scale": {"domain": [-1100, 23100], "nice": false, "zero": false}, "axis": {"values": [0, 5000, 10000, 15000, 20000], "format": ",d", "title": null}}, "y2": {"datum": 0}}},
      {"data": {"name": "emp"}, "transform": [{"filter": {"field": "industry", "equal": "Information"}}],
       "mark": {"type": "line", "color": "#000000", "strokeWidth": 1.5},
       "encoding": {"x": {"field": "year", "type": "quantitative", "scale": {"domain": [1988.33, 2025.18], "nice": false, "zero": false}, "axis": null},
        "y": {"field": "value", "type": "quantitative", "scale": {"domain": [-1100, 23100], "nice": false, "zero": false}, "axis": {"orient": "right", "values": [2500, 7500, 12500, 17500, 22500], "labels": false, "gridWidth": 1, "minExtent": 0, "maxExtent": 0, "title": null}}}}
     ]},
    {"title": {"text": "Leisure and hospitality"}, "width": 567, "height": 94,
     "resolve": {"axis": {"x": "independent", "y": "independent"}},
     "layer": [
      {"data": {"name": "rec"}, "mark": {"type": "rect", "color": "#D1D1D1"},
       "encoding": {"x": {"field": "start", "type": "quantitative", "scale": {"domain": [1988.33, 2025.18], "nice": false, "zero": false}, "axis": {"orient": "top", "values": [1995, 2005, 2015, 2025], "labels": false, "gridWidth": 1, "minExtent": 0, "maxExtent": 0, "title": null}}, "x2": {"field": "end"}}},
      {"data": {"name": "emp"}, "transform": [{"filter": {"field": "industry", "equal": "Leisure and hospitality"}}],
       "mark": {"type": "area", "color": "#0A8CF0", "opacity": 0.5},
       "encoding": {"x": {"field": "year", "type": "quantitative", "scale": {"domain": [1988.33, 2025.18], "nice": false, "zero": false}, "axis": {"values": [1990, 2000, 2010, 2020], "format": "d", "title": null}},
        "y": {"field": "value", "type": "quantitative", "scale": {"domain": [-17600, 369600], "nice": false, "zero": false}, "axis": {"values": [0, 100000, 200000, 300000], "format": ",d", "title": null}}, "y2": {"datum": 0}}},
      {"data": {"name": "emp"}, "transform": [{"filter": {"field": "industry", "equal": "Leisure and hospitality"}}],
       "mark": {"type": "line", "color": "#000000", "strokeWidth": 1.5},
       "encoding": {"x": {"field": "year", "type": "quantitative", "scale": {"domain": [1988.33, 2025.18], "nice": false, "zero": false}, "axis": null},
        "y": {"field": "value", "type": "quantitative", "scale": {"domain": [-17600, 369600], "nice": false, "zero": false}, "axis": {"orient": "right", "values": [50000, 150000, 250000, 350000], "labels": false, "gridWidth": 1, "minExtent": 0, "maxExtent": 0, "title": null}}}}
     ]},
    {"title": {"text": "Manufacturing"}, "width": 567, "height": 94,
     "resolve": {"axis": {"x": "independent", "y": "independent"}},
     "layer": [
      {"data": {"name": "rec"}, "mark": {"type": "rect", "color": "#D1D1D1"},
       "encoding": {"x": {"field": "start", "type": "quantitative", "scale": {"domain": [1988.33, 2025.18], "nice": false, "zero": false}, "axis": {"orient": "top", "values": [1995, 2005, 2015, 2025], "labels": false, "gridWidth": 1, "minExtent": 0, "maxExtent": 0, "title": null}}, "x2": {"field": "end"}}},
      {"data": {"name": "emp"}, "transform": [{"filter": {"field": "industry", "equal": "Manufacturing"}}],
       "mark": {"type": "area", "color": "#0A8CF0", "opacity": 0.5},
       "encoding": {"x": {"field": "year", "type": "quantitative", "scale": {"domain": [1988.33, 2025.18], "nice": false, "zero": false}, "axis": {"values": [1990, 2000, 2010, 2020], "format": "d", "title": null}},
        "y": {"field": "value", "type": "quantitative", "scale": {"domain": [-3400, 71400], "nice": false, "zero": false}, "axis": {"values": [0, 20000, 40000, 60000], "format": ",d", "title": null}}, "y2": {"datum": 0}}},
      {"data": {"name": "emp"}, "transform": [{"filter": {"field": "industry", "equal": "Manufacturing"}}],
       "mark": {"type": "line", "color": "#000000", "strokeWidth": 1.5},
       "encoding": {"x": {"field": "year", "type": "quantitative", "scale": {"domain": [1988.33, 2025.18], "nice": false, "zero": false}, "axis": null},
        "y": {"field": "value", "type": "quantitative", "scale": {"domain": [-3400, 71400], "nice": false, "zero": false}, "axis": {"orient": "right", "values": [10000, 30000, 50000, 70000], "labels": false, "gridWidth": 1, "minExtent": 0, "maxExtent": 0, "title": null}}}}
     ]},
    {"title": {"text": "Mining and logging", "offset": 2}, "width": 567, "height": 94,
     "resolve": {"axis": {"x": "independent", "y": "independent"}},
     "layer": [
      {"data": {"name": "rec"}, "mark": {"type": "rect", "color": "#D1D1D1"},
       "encoding": {"x": {"field": "start", "type": "quantitative", "scale": {"domain": [1988.33, 2025.18], "nice": false, "zero": false}, "axis": {"orient": "top", "values": [1995, 2005, 2015, 2025], "labels": false, "gridWidth": 1, "minExtent": 0, "maxExtent": 0, "title": null}}, "x2": {"field": "end"}}},
      {"data": {"name": "emp"}, "transform": [{"filter": {"field": "industry", "equal": "Mining and logging"}}],
       "mark": {"type": "area", "color": "#0A8CF0", "opacity": 0.5},
       "encoding": {"x": {"field": "year", "type": "quantitative", "scale": {"domain": [1988.33, 2025.18], "nice": false, "zero": false}, "axis": {"values": [1990, 2000, 2010, 2020], "format": "d", "title": null}},
        "y": {"field": "value", "type": "quantitative", "scale": {"domain": [-780, 16380], "nice": false, "zero": false}, "axis": {"values": [0, 5000, 10000, 15000], "format": ",d", "title": null}}, "y2": {"datum": 0}}},
      {"data": {"name": "emp"}, "transform": [{"filter": {"field": "industry", "equal": "Mining and logging"}}],
       "mark": {"type": "line", "color": "#000000", "strokeWidth": 1.5},
       "encoding": {"x": {"field": "year", "type": "quantitative", "scale": {"domain": [1988.33, 2025.18], "nice": false, "zero": false}, "axis": null},
        "y": {"field": "value", "type": "quantitative", "scale": {"domain": [-780, 16380], "nice": false, "zero": false}, "axis": {"orient": "right", "values": [2500, 7500, 12500], "labels": false, "gridWidth": 1, "minExtent": 0, "maxExtent": 0, "title": null}}}}
     ]},
    {"title": {"text": "Other services", "offset": 5.4}, "width": 567, "height": 94,
     "resolve": {"axis": {"x": "independent", "y": "independent"}},
     "layer": [
      {"data": {"name": "rec"}, "mark": {"type": "rect", "color": "#D1D1D1"},
       "encoding": {"x": {"field": "start", "type": "quantitative", "scale": {"domain": [1988.33, 2025.18], "nice": false, "zero": false}, "axis": {"orient": "top", "values": [1995, 2005, 2015, 2025], "labels": false, "gridWidth": 1, "minExtent": 0, "maxExtent": 0, "title": null}}, "x2": {"field": "end"}}},
      {"data": {"name": "emp"}, "transform": [{"filter": {"field": "industry", "equal": "Other services"}}],
       "mark": {"type": "area", "color": "#0A8CF0", "opacity": 0.5},
       "encoding": {"x": {"field": "year", "type": "quantitative", "scale": {"domain": [1988.33, 2025.18], "nice": false, "zero": false}, "axis": {"values": [1990, 2000, 2010, 2020], "format": "d", "title": null}},
        "y": {"field": "value", "type": "quantitative", "scale": {"domain": [-2175, 45675], "nice": false, "zero": false}, "axis": {"values": [0, 10000, 20000, 30000, 40000], "format": ",d", "title": null}}, "y2": {"datum": 0}}},
      {"data": {"name": "emp"}, "transform": [{"filter": {"field": "industry", "equal": "Other services"}}],
       "mark": {"type": "line", "color": "#000000", "strokeWidth": 1.5},
       "encoding": {"x": {"field": "year", "type": "quantitative", "scale": {"domain": [1988.33, 2025.18], "nice": false, "zero": false}, "axis": null},
        "y": {"field": "value", "type": "quantitative", "scale": {"domain": [-2175, 45675], "nice": false, "zero": false}, "axis": {"orient": "right", "values": [5000, 15000, 25000, 35000, 45000], "labels": false, "gridWidth": 1, "minExtent": 0, "maxExtent": 0, "title": null}}}}
     ]},
    {"title": {"text": "Professional and business services"}, "width": 567, "height": 94,
     "resolve": {"axis": {"x": "independent", "y": "independent"}},
     "layer": [
      {"data": {"name": "rec"}, "mark": {"type": "rect", "color": "#D1D1D1"},
       "encoding": {"x": {"field": "start", "type": "quantitative", "scale": {"domain": [1988.33, 2025.18], "nice": false, "zero": false}, "axis": {"orient": "top", "values": [1995, 2005, 2015, 2025], "labels": false, "gridWidth": 1, "minExtent": 0, "maxExtent": 0, "title": null}}, "x2": {"field": "end"}}},
      {"data": {"name": "emp"}, "transform": [{"filter": {"field": "industry", "equal": "Professional and business services"}}],
       "mark": {"type": "area", "color": "#0A8CF0", "opacity": 0.5},
       "encoding": {"x": {"field": "year", "type": "quantitative", "scale": {"domain": [1988.33, 2025.18], "nice": false, "zero": false}, "axis": {"values": [1990, 2000, 2010, 2020], "format": "d", "title": null}},
        "y": {"field": "value", "type": "quantitative", "scale": {"domain": [-11250, 236250], "nice": false, "zero": false}, "axis": {"values": [0, 50000, 100000, 150000, 200000], "format": ",d", "title": null}}, "y2": {"datum": 0}}},
      {"data": {"name": "emp"}, "transform": [{"filter": {"field": "industry", "equal": "Professional and business services"}}],
       "mark": {"type": "line", "color": "#000000", "strokeWidth": 1.5},
       "encoding": {"x": {"field": "year", "type": "quantitative", "scale": {"domain": [1988.33, 2025.18], "nice": false, "zero": false}, "axis": null},
        "y": {"field": "value", "type": "quantitative", "scale": {"domain": [-11250, 236250], "nice": false, "zero": false}, "axis": {"orient": "right", "values": [25000, 75000, 125000, 175000, 225000], "labels": false, "gridWidth": 1, "minExtent": 0, "maxExtent": 0, "title": null}}}}
     ]},
    {"title": {"text": "Total nonfarm", "offset": 2}, "width": 567, "height": 94,
     "resolve": {"axis": {"x": "independent", "y": "independent"}},
     "layer": [
      {"data": {"name": "rec"}, "mark": {"type": "rect", "color": "#D1D1D1"},
       "encoding": {"x": {"field": "start", "type": "quantitative", "scale": {"domain": [1988.33, 2025.18], "nice": false, "zero": false}, "axis": {"orient": "top", "values": [1995, 2005, 2015, 2025], "labels": false, "gridWidth": 1, "minExtent": 0, "maxExtent": 0, "title": null}}, "x2": {"field": "end"}}},
      {"data": {"name": "emp"}, "transform": [{"filter": {"field": "industry", "equal": "Total nonfarm"}}],
       "mark": {"type": "area", "color": "#0A8CF0", "opacity": 0.5},
       "encoding": {"x": {"field": "year", "type": "quantitative", "scale": {"domain": [1988.33, 2025.18], "nice": false, "zero": false}, "axis": {"values": [1990, 2000, 2010, 2020], "format": "d", "title": null}},
        "y": {"field": "value", "type": "quantitative", "scale": {"domain": [-78000, 1638000], "nice": false, "zero": false}, "axis": {"values": [0, 500000, 1000000, 1500000], "format": ",d", "title": null}}, "y2": {"datum": 0}}},
      {"data": {"name": "emp"}, "transform": [{"filter": {"field": "industry", "equal": "Total nonfarm"}}],
       "mark": {"type": "line", "color": "#000000", "strokeWidth": 1.5},
       "encoding": {"x": {"field": "year", "type": "quantitative", "scale": {"domain": [1988.33, 2025.18], "nice": false, "zero": false}, "axis": null},
        "y": {"field": "value", "type": "quantitative", "scale": {"domain": [-78000, 1638000], "nice": false, "zero": false}, "axis": {"orient": "right", "values": [250000, 750000, 1250000], "labels": false, "gridWidth": 1, "minExtent": 0, "maxExtent": 0, "title": null}}}}
     ]},
    {"title": {"text": "Trade, transportation, and utilities", "offset": -3}, "width": 567, "height": 94,
     "resolve": {"axis": {"x": "independent", "y": "independent"}},
     "layer": [
      {"data": {"name": "rec"}, "mark": {"type": "rect", "color": "#D1D1D1"},
       "encoding": {"x": {"field": "start", "type": "quantitative", "scale": {"domain": [1988.33, 2025.18], "nice": false, "zero": false}, "axis": {"orient": "top", "values": [1995, 2005, 2015, 2025], "labels": false, "gridWidth": 1, "minExtent": 0, "maxExtent": 0, "title": null}}, "x2": {"field": "end"}}},
      {"data": {"name": "emp"}, "transform": [{"filter": {"field": "industry", "equal": "Trade, transportation, and utilities"}}],
       "mark": {"type": "area", "color": "#0A8CF0", "opacity": 0.5},
       "encoding": {"x": {"field": "year", "type": "quantitative", "scale": {"domain": [1988.33, 2025.18], "nice": false, "zero": false}, "axis": {"values": [1990, 2000, 2010, 2020], "format": "d", "title": null}},
        "y": {"field": "value", "type": "quantitative", "scale": {"domain": [-14750, 309750], "nice": false, "zero": false}, "axis": {"values": [0, 100000, 200000, 300000], "format": ",d", "title": null}}, "y2": {"datum": 0}}},
      {"data": {"name": "emp"}, "transform": [{"filter": {"field": "industry", "equal": "Trade, transportation, and utilities"}}],
       "mark": {"type": "line", "color": "#000000", "strokeWidth": 1.5},
       "encoding": {"x": {"field": "year", "type": "quantitative", "scale": {"domain": [1988.33, 2025.18], "nice": false, "zero": false}, "axis": null},
        "y": {"field": "value", "type": "quantitative", "scale": {"domain": [-14750, 309750], "nice": false, "zero": false}, "axis": {"orient": "right", "values": [50000, 150000, 250000], "labels": false, "gridWidth": 1, "minExtent": 0, "maxExtent": 0, "title": null}}}}
     ]}
  ]
}
